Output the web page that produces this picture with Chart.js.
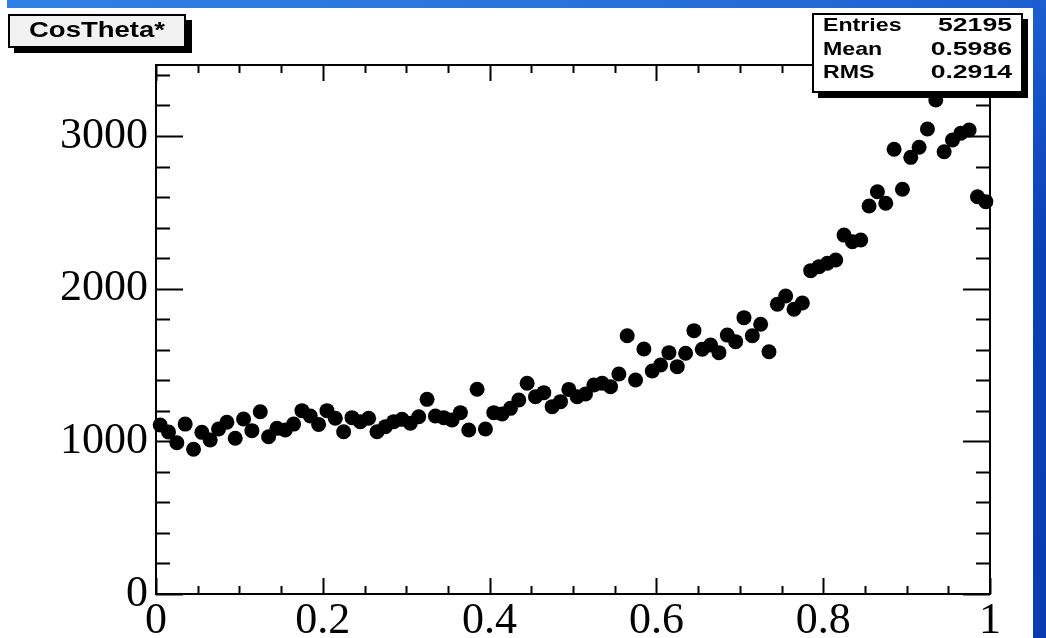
<!DOCTYPE html>
<html>
<head>
<meta charset="utf-8">
<script src="https://cdn.jsdelivr.net/npm/chart.js@4.4.1/dist/chart.umd.min.js"></script>
<style>
  html, body { margin: 0; padding: 0; background: #fff; }
  #wrap { position: relative; width: 1046px; height: 638px; overflow: hidden; }
  #topband { position: absolute; left: 7px; top: 0; width: 1039px; height: 8px;
    background: linear-gradient(90deg, #2f80e4, #2a74dc 50%, #1d5fd0); }
  #rightband { position: absolute; right: 0; top: 0; width: 13px; height: 638px;
    background: linear-gradient(180deg, #1c5ed2, #0b3fb6 40%, #0a3cb0); }
  canvas { position: absolute; left: 0; top: 0; }
</style>
</head>
<body>
<div id="wrap">
  <canvas id="chart" width="1046" height="638"></canvas>
  <div id="topband"></div>
  <div id="rightband"></div>
</div>
<script>
// histogram: 100 bins on [0, 1]
const binCount = 100;
const counts = [
  1107, 1061, 991, 1113, 948, 1059, 1009, 1081, 1125, 1020,
  1146, 1070, 1194, 1030, 1085, 1074, 1113, 1201, 1166, 1111,
  1201, 1151, 1063, 1155, 1129, 1151, 1063, 1096, 1129, 1144,
  1118, 1161, 1275, 1166, 1155, 1140, 1188, 1074, 1341, 1081,
  1188, 1179, 1216, 1271, 1380, 1292, 1319, 1227, 1260, 1340,
  1292, 1310, 1369, 1380, 1358, 1441, 1692, 1402, 1605, 1461,
  1500, 1581, 1489, 1577, 1725, 1603, 1631, 1581, 1696, 1653,
  1810, 1692, 1767, 1587, 1898, 1952, 1865, 1906, 2118, 2144,
  2166, 2188, 2351, 2308, 2319, 2541, 2635, 2559, 2913, 2651,
  2860, 2926, 3046, 3236, 2897, 2974, 3018, 3039, 2602, 2570
];

const xTickValues = [0, 0.2, 0.4, 0.6, 0.8, 1];
const xTickLabels = ["0", "0.2", "0.4", "0.6", "0.8", "1"];
const yTickValues = [0, 1000, 2000, 3000];
const yTickLabels = ["0", "1000", "2000", "3000"];
const xMinorStep = 0.05;
const yMinorStep = 200;
const yMax = 3465;

const histTitle = "CosTheta*";
const statNames = ["Entries", "Mean", "RMS"];
const statValues = ["52195", "0.5986", "0.2914"];

const points = counts.map((c, i) => ({ x: (i + 0.5) / binCount, y: c }));

function stretchedText(ctx, text, x, y, sx, align) {
  ctx.save();
  ctx.translate(x, y);
  ctx.scale(sx, 1);
  ctx.textAlign = align;
  ctx.fillText(text, 0, 0);
  ctx.restore();
}

// ROOT style frame, inward ticks, title box and stats box
const rootFrame = {
  id: "rootFrame",
  afterDraw(chart) {
    const ctx = chart.ctx;
    const a = chart.chartArea;
    const xs = chart.scales.x, ys = chart.scales.y;
    ctx.save();
    ctx.strokeStyle = "#000";
    ctx.lineWidth = 2;
    ctx.strokeRect(a.left, a.top, a.right - a.left, a.bottom - a.top);

    ctx.beginPath();
    for (let v = 0; v <= 1.0001; v += xMinorStep) {
      const px = Math.round(xs.getPixelForValue(v)) + 0.5;
      const major = xTickValues.some(t => Math.abs(t - v) < 1e-6);
      const len = major ? 16 : 8;
      ctx.moveTo(px, a.bottom); ctx.lineTo(px, a.bottom - len);
      ctx.moveTo(px, a.top); ctx.lineTo(px, a.top + len);
    }
    for (let v = 0; v <= yMax; v += yMinorStep) {
      const py = Math.round(ys.getPixelForValue(v)) + 0.5;
      const major = yTickValues.includes(v);
      const len = major ? 27 : 14;
      ctx.moveTo(a.left, py); ctx.lineTo(a.left + len, py);
      ctx.moveTo(a.right, py); ctx.lineTo(a.right - len, py);
    }
    ctx.stroke();

    // title box
    ctx.fillStyle = "#000";
    ctx.fillRect(14, 20, 178, 33);
    ctx.fillStyle = "#f2f2f2";
    ctx.fillRect(9, 15, 176, 32);
    ctx.lineWidth = 2;
    ctx.strokeRect(9, 15, 176, 32);
    ctx.fillStyle = "#000";
    ctx.font = "bold 22px 'Liberation Sans', Arial, sans-serif";
    ctx.textBaseline = "middle";
    stretchedText(ctx, histTitle, 97, 31, 1.25, "center");

    // stats box
    ctx.fillRect(818, 19, 210, 79);
    ctx.fillStyle = "#fff";
    ctx.fillRect(813, 14, 209, 78);
    ctx.strokeRect(813, 14, 209, 78);
    ctx.fillStyle = "#000";
    statNames.forEach((n, i) => {
      const y = 26 + i * 23.5;
      ctx.font = "bold 19px 'Liberation Sans', Arial, sans-serif";
      stretchedText(ctx, n, 823, y, 1.22, "left");
      ctx.font = "bold 19px 'Liberation Sans', Arial, sans-serif";
      stretchedText(ctx, statValues[i], 1012, y, 1.4, "right");
    });
    ctx.restore();
  }
};

new Chart(document.getElementById("chart"), {
  type: "scatter",
  data: {
    datasets: [{
      label: histTitle,
      data: points,
      backgroundColor: "#000",
      borderColor: "#000",
      pointRadius: 7.5,
      pointHoverRadius: 7.5,
      borderWidth: 0,
      clip: false
    }]
  },
  options: {
    responsive: false,
    animation: false,
    devicePixelRatio: 1,
    layout: { padding: { left: 0, top: 65, right: 56, bottom: 0 } },
    plugins: { legend: { display: false }, tooltip: { enabled: false } },
    scales: {
      x: {
        type: "linear", min: 0, max: 1,
        afterFit(s) { s.height = 44; },
        afterBuildTicks(s) { s.ticks = xTickValues.map(v => ({ value: v })); },
        grid: { display: false, drawTicks: false },
        border: { display: false },
        ticks: {
          padding: 1, color: "#000", maxRotation: 0, autoSkip: false,
          font: { family: "'Liberation Serif', 'Times New Roman', serif", size: 44 },
          callback: (v) => xTickLabels[xTickValues.indexOf(v)]
        }
      },
      y: {
        type: "linear", min: 0, max: yMax,
        afterFit(s) { s.width = 156; },
        afterBuildTicks(s) { s.ticks = yTickValues.map(v => ({ value: v })); },
        grid: { display: false, drawTicks: false },
        border: { display: false },
        ticks: {
          padding: 8, color: "#000", autoSkip: false,
          font: { family: "'Liberation Serif', 'Times New Roman', serif", size: 44 },
          callback: (v) => yTickLabels[yTickValues.indexOf(v)]
        }
      }
    }
  },
  plugins: [rootFrame]
});
</script>
</body>
</html>
